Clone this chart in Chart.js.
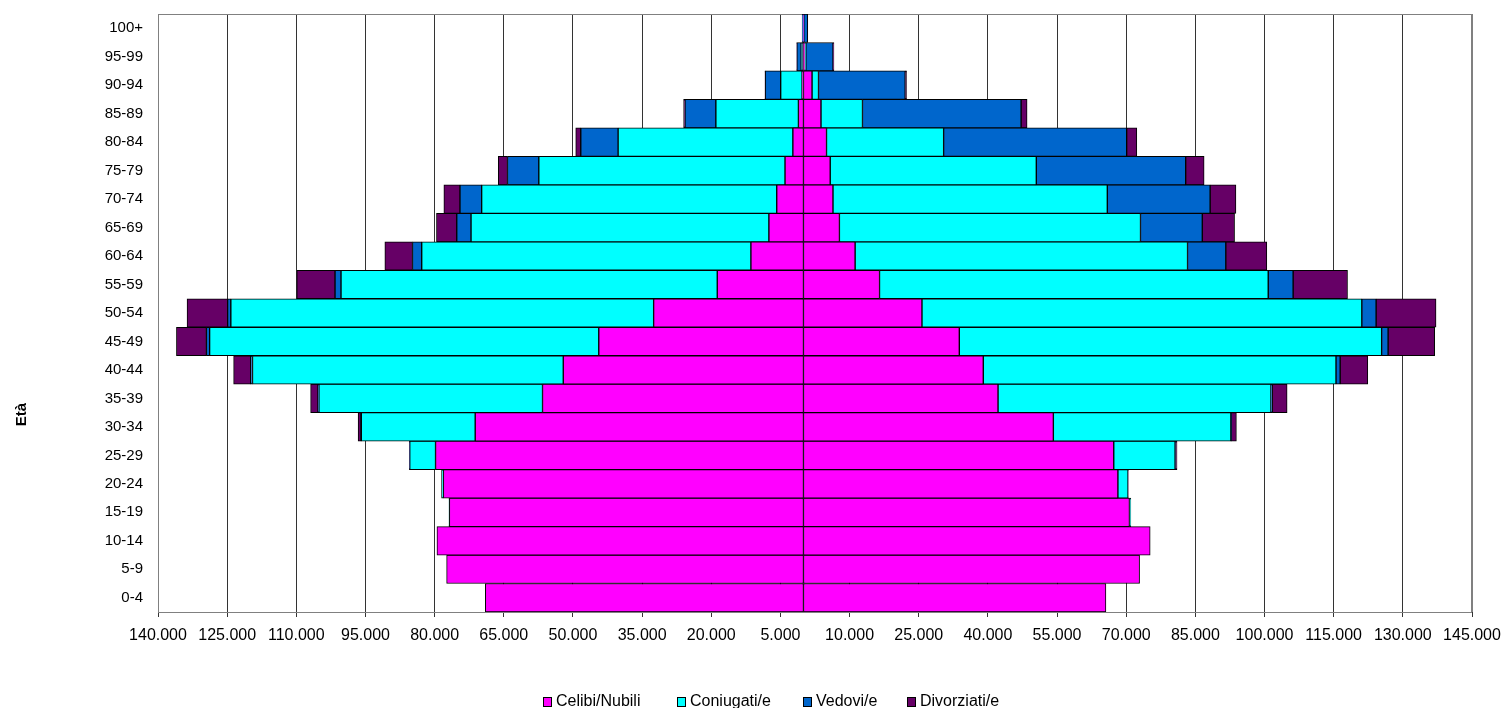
<!DOCTYPE html>
<html>
<head>
<meta charset="utf-8">
<script src="https://cdn.jsdelivr.net/npm/chart.js@4.4.1/dist/chart.umd.min.js"></script>
<style>
  body { margin: 0; background: #fff; }
  #wrap { position: relative; width: 1505px; height: 708px; overflow: hidden; font-family: 'Liberation Sans', Arial, sans-serif; }
  #legend { position: absolute; left: 0; top: 692px; width: 1505px; height: 18px; font-size: 16px; line-height: 18px; color: #000; }
  .item { position: absolute; top: 0; white-space: nowrap; }
  .box { display: inline-block; width: 7px; height: 8px; border: 1px solid #000; margin-right: 4px; vertical-align: -1px; }
</style>
</head>
<body>
<div id="wrap">
  <canvas id="piramide" width="1505" height="708"></canvas>
  <div id="legend"></div>
</div>
<script>
// classi di età, dal basso verso l'alto
const ageGroups = ['0-4', '5-9', '10-14', '15-19', '20-24', '25-29', '30-34', '35-39', '40-44', '45-49',
  '50-54', '55-59', '60-64', '65-69', '70-74', '75-79', '80-84', '85-89', '90-94', '95-99', '100+'];

// maschi (lato sinistro)
const maschiCelibi = [69000, 77400, 79500, 76800, 78100, 79800, 71200, 56600, 52100, 44400,
  32500, 18700, 11400, 7500, 5800, 4000, 2300, 1100, 300, 140, 20];
const maschiConiugati = [0, 0, 0, 100, 400, 5600, 24700, 48500, 67400, 84400,
  91700, 81600, 71400, 64600, 64000, 53400, 37900, 17900, 4640, 360, 60];
const maschiVedovi = [0, 0, 0, 0, 0, 10, 100, 200, 400, 700,
  700, 1300, 2000, 3100, 4700, 6800, 8100, 6700, 3360, 930, 200];
const maschiDivorziati = [0, 0, 0, 0, 0, 50, 600, 1600, 3700, 6500,
  8800, 8300, 6000, 4400, 3500, 2000, 1100, 300, 60, 20, 5];

// femmine (lato destro)
const femmineNubili = [65600, 72900, 75200, 70700, 68200, 67300, 54200, 42200, 39000, 33800,
  25700, 16500, 11200, 7800, 6400, 5800, 5000, 3800, 1860, 360, 50];
const femmineConiugate = [0, 0, 0, 300, 2200, 13300, 38500, 59200, 76500, 91600,
  95400, 84300, 72100, 65300, 59500, 44700, 25400, 9000, 1400, 150, 20];
const femmineVedove = [0, 0, 0, 0, 0, 20, 100, 300, 900, 1400,
  3100, 5400, 8300, 13400, 22300, 32400, 39700, 34400, 18800, 5900, 850];
const femmineDivorziate = [0, 0, 0, 0, 50, 400, 1100, 3200, 6000, 10100,
  13000, 11800, 8900, 7000, 5600, 4000, 2200, 1300, 300, 200, 20];

const seriesNames = ['Celibi/Nubili', 'Coniugati/e', 'Vedovi/e', 'Divorziati/e'];
const seriesColors = ['#FF00FF', '#00FFFF', '#0066CC', '#660066'];

// asse x
const xMin = -140000;
const xMax = 145000;
const xStep = 15000;

function formatNum(v) {
  return String(Math.abs(v)).replace(/\B(?=(\d{3})+(?!\d))/g, '.');
}

const barStyle = {
  borderColor: '#000',
  borderWidth: 1,
  borderSkipped: false,
  categoryPercentage: 1,
  barPercentage: 1,
  stack: 'pop'
};

const datasets = [];
[maschiCelibi, maschiConiugati, maschiVedovi, maschiDivorziati].forEach((serie, i) => {
  datasets.push(Object.assign({
    label: seriesNames[i],
    data: serie.map(v => -v),
    backgroundColor: seriesColors[i]
  }, barStyle));
});
[femmineNubili, femmineConiugate, femmineVedove, femmineDivorziate].forEach((serie, i) => {
  datasets.push(Object.assign({
    label: seriesNames[i],
    data: serie,
    backgroundColor: seriesColors[i]
  }, barStyle));
});

// cornice grigia dell'area del grafico
const frame = {
  id: 'frame',
  beforeDatasetsDraw(chart) {
    const a = chart.chartArea;
    const ctx = chart.ctx;
    ctx.save();
    ctx.strokeStyle = '#808080';
    ctx.lineWidth = 1;
    ctx.strokeRect(a.left + 0.5, a.top + 0.5, a.right - a.left - 1, a.bottom - a.top);
    ctx.restore();
  }
};

// titolo asse y
const yTitle = {
  id: 'yTitle',
  afterDraw(chart) {
    const a = chart.chartArea;
    const ctx = chart.ctx;
    ctx.save();
    ctx.translate(22, a.top + (a.bottom - a.top) * 0.67);
    ctx.rotate(-Math.PI / 2);
    ctx.font = "bold 15px 'Liberation Sans', Arial, sans-serif";
    ctx.fillStyle = '#000';
    ctx.textAlign = 'center';
    ctx.textBaseline = 'middle';
    ctx.fillText('Età', 0, 0);
    ctx.restore();
  }
};

const chart = new Chart(document.querySelector('#piramide'), {
  type: 'bar',
  data: { labels: ageGroups, datasets: datasets },
  options: {
    indexAxis: 'y',
    responsive: false,
    animation: false,
    devicePixelRatio: 1,
    layout: { padding: { top: 14, right: 33, left: 0, bottom: 0 } },
    plugins: {
      legend: { display: false },
      tooltip: { enabled: false }
    },
    scales: {
      x: {
        type: 'linear',
        stacked: true,
        min: xMin,
        max: xMax,
        border: { display: false },
        grid: {
          color: (c) => (c.tick && (c.tick.value === xMin || c.tick.value === xMax)) ? '#808080' : '#333',
          lineWidth: 1,
          tickLength: 5,
          tickColor: '#333'
        },
        ticks: {
          stepSize: xStep,
          autoSkip: false,
          maxRotation: 0,
          padding: 9,
          color: '#000',
          font: { family: "'Liberation Sans', Arial, sans-serif", size: 16 },
          callback: (v) => formatNum(v)
        },
        afterFit: (s) => { s.height = 96; s.paddingLeft = 0; s.paddingRight = 0; }
      },
      y: {
        type: 'category',
        stacked: true,
        reverse: true,
        border: { display: false },
        grid: { display: false, drawTicks: false },
        ticks: {
          padding: 15,
          color: '#000',
          font: { family: "'Liberation Sans', Arial, sans-serif", size: 15 }
        },
        afterFit: (s) => { s.width = 158; s.paddingTop = 0; s.paddingBottom = 0; }
      }
    }
  },
  plugins: [frame, yTitle]
});

// legenda in basso
const legendX = [543, 677, 803, 907];
const legend = document.querySelector('#legend');
seriesNames.forEach((name, i) => {
  const item = document.createElement('span');
  item.className = 'item';
  item.style.left = legendX[i] + 'px';
  const box = document.createElement('span');
  box.className = 'box';
  box.style.background = seriesColors[i];
  item.appendChild(box);
  item.appendChild(document.createTextNode(name));
  legend.appendChild(item);
});
</script>
</body>
</html>
